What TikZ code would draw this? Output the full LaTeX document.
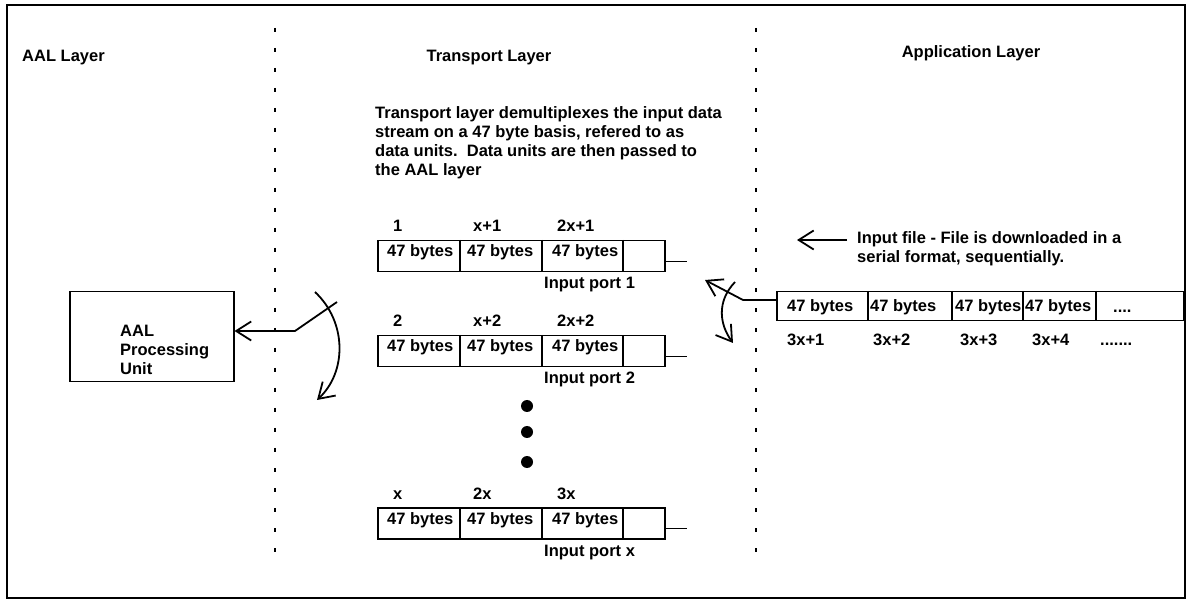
\documentclass[tikz,border=0pt]{standalone}
\usepackage{fontspec}
\setmainfont{Liberation Sans}
\usetikzlibrary{arrows.meta, calc}

\begin{document}
\begin{tikzpicture}[x=1pt, y=-1pt,
    txt/.style={font=\bfseries\fontsize{16.5}{19}\selectfont, inner sep=0pt, anchor=base west},
    para/.style={txt, align=left, anchor=north west},
    box/.style={draw, line width=1.5pt, inner sep=0pt, anchor=north west},
    barb/.style={line width=1.8pt, -{Straight Barb[length=15pt, width=19pt]}},
    layerline/.style={line width=2pt, dash pattern=on 4pt off 16pt}]
    % Define cell geometry
    \def\cellH{31}
    \def\serialTop{291}

    \useasboundingbox (0,0) rectangle (1189,601);

    % Draw frame
    \draw[line width=2.5pt] (7,5) rectangle (1185,598);

    % Draw layer separators
    \draw[layerline] (275,28) -- (275,558);
    \draw[layerline] (756,28) -- (756,566);

    % Layer titles
    \node[txt] (aalTitle) at (22,62) {AAL Layer};
    \node[txt, anchor=base] (transTitle) at (489,62) {Transport Layer};
    \node[txt, anchor=base] (appTitle) at (971,58) {Application Layer};

    % Transport layer description
    \node[para] (desc) at (375,106) {Transport layer demultiplexes the input data\\
        stream on a 47 byte basis, refered to as\\
        data units.\ \ Data units are then passed to\\
        the AAL layer};

    % Draw the input ports
    \foreach \n/\yt/\la/\lb/\lc in {1/240/1/x+1/2x+1, 2/335/2/x+2/2x+2, x/507/x/2x/3x} {
        \node[box, minimum width=287pt, minimum height=\cellH pt] (port\n) at (377,\yt) {};
        \foreach \xd in {460,542,623}
            \draw[line width=1.5pt] (\xd,\yt) -- (\xd,\yt+\cellH);
        \foreach \xc in {387,467,552}
            \node[txt] at (\xc,\yt+17) {47 bytes};
        % Unit numbers above the cells
        \node[txt] at (393,\yt-8) {\la};
        \node[txt] at (473,\yt-8) {\lb};
        \node[txt] at (557,\yt-8) {\lc};
        \node[txt] at (544,\yt+49) {Input port \n};
        \draw[line width=1.5pt] ($(port\n.south east)+(0,-11)$) -- ++(21,0);
    }

    % Dots between port 2 and port x
    \foreach \yd in {406,432,462}
        \fill (527,\yd) circle (6pt);

    % AAL processing unit
    \node[box, minimum width=164pt, minimum height=90pt] (aal) at (69,291) {};
    \node[para] (aalText) at (120,325) {AAL\\Processing\\Unit};

    % AAL side switch
    \coordinate (swL) at (295,331);
    \coordinate (swLtop) at (337,302);
    \draw[barb] (swLtop) -- (swL) -- (aal.east |- swL);
    \draw[barb] (315,292) .. controls (347,322) and (347,372) .. (317,400);

    % Serial input file
    \node[box, minimum width=407pt, minimum height=29pt] (serial) at (776,\serialTop) {};
    \foreach \xd in {868,952,1023,1096}
        \draw[line width=1.5pt] (\xd,\serialTop) -- (\xd,\serialTop+29);
    \foreach \xc in {787,870,955,1025}
        \node[txt] at (\xc,312) {47 bytes};
    \node[txt] at (1113,313) {....};
    \foreach \xc/\lab in {787/3x+1, 873/3x+2, 960/3x+3, 1032/3x+4}
        \node[txt] at (\xc,346) {\lab};
    \node[txt] at (1100,346) {.......};

    \node[para] (infile) at (857,231) {Input file - File is downloaded in a\\
        serial format, sequentially.};
    \coordinate (fileTip) at (797,240);
    \draw[barb] ($(infile.north west)+(-10,9)$) -- (fileTip);

    % Transport side switch
    \coordinate (swR) at (743,300);
    \coordinate (swRtip) at (705,280);
    \draw[barb] ($(serial.north west)+(0,9)$) -- (swR) -- (swRtip);
    \draw[barb] (735,282) .. controls (716,302) and (720,325) .. (733,343);

\end{tikzpicture}
\end{document}
